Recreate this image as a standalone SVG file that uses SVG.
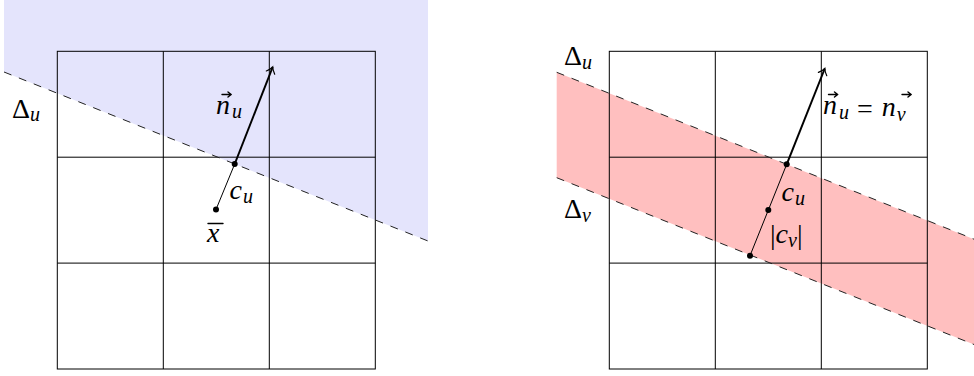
<svg xmlns="http://www.w3.org/2000/svg" width="974" height="376" viewBox="0 0 974 376">
<defs>
<marker id="to" viewBox="-8 -6 10 12" markerWidth="10" markerHeight="12" refX="0" refY="0" orient="auto" markerUnits="userSpaceOnUse">
<path d="M-6,-4.5 Q-2.5,-1 0,0 Q-2.5,1 -6,4.5" fill="none" stroke="#000" stroke-width="1.2" stroke-linecap="round"/>
</marker>
</defs>
<rect width="974" height="376" fill="#fff"/>
<polygon id="half-plane" points="4,0 428,0 428,241 4,72" fill="#e4e4fc"/>
<polygon id="band" points="556.7,72.3 1000,249.6 1000,354.9 556.7,177.7" fill="#ffbfbf"/>
<g id="grids" fill="none" stroke="#000" stroke-width="1">
<rect x="57.3" y="51.3" width="318" height="317.7"/>
<line x1="163.3" y1="51.3" x2="163.3" y2="369"/>
<line x1="269.3" y1="51.3" x2="269.3" y2="369"/>
<line x1="57.3" y1="157.2" x2="375.3" y2="157.2"/>
<line x1="57.3" y1="263.1" x2="375.3" y2="263.1"/>
<rect x="609.3" y="51.3" width="318" height="317.7"/>
<line x1="715.3" y1="51.3" x2="715.3" y2="369"/>
<line x1="821.3" y1="51.3" x2="821.3" y2="369"/>
<line x1="609.3" y1="157.2" x2="927.3" y2="157.2"/>
<line x1="609.3" y1="263.1" x2="927.3" y2="263.1"/>
</g>
<g id="connectors" fill="none" stroke="#000">
<line x1="4" y1="72" x2="428" y2="241" stroke="#222" stroke-width="1" stroke-dasharray="8 8"/>
<line x1="216" y1="209.5" x2="234.7" y2="164" stroke-width="1"/>
<line x1="234.7" y1="164" x2="272.7" y2="67" stroke-width="2" marker-end="url(#to)"/>
<line x1="556.7" y1="72.3" x2="1000" y2="249.6" stroke="#222" stroke-width="1" stroke-dasharray="8 8"/>
<line x1="556.7" y1="177.7" x2="1000" y2="354.9" stroke="#222" stroke-width="1" stroke-dasharray="8 8"/>
<line x1="750" y1="255.7" x2="786.7" y2="164.3" stroke-width="1"/>
<line x1="786.7" y1="164.3" x2="824.8" y2="68.5" stroke-width="2" marker-end="url(#to)"/>
</g>
<g id="points" fill="#000">
<circle cx="216" cy="209.5" r="3"/>
<circle cx="234.7" cy="164" r="3"/>
<circle cx="786.7" cy="164.3" r="3"/>
<circle cx="768.3" cy="210" r="3"/>
<circle cx="750" cy="255.7" r="3"/>
</g>
<path d="M222,94.5 H231 M228,92 L231.2,94.5 L228,97 M828.5,94.5 H837.5 M834.5,92 L837.7,94.5 L834.5,97 M902,94.5 H911 M908,92 L911.2,94.5 L908,97 M208,223.5 H223" fill="none" stroke="#000" stroke-width="1.4" stroke-linecap="round" stroke-linejoin="round"/>
<g font-family="Liberation Serif, Times New Roman, serif" font-size="28" fill="#000">
<text x="12" y="117.5">Δ<tspan font-size="20" font-style="italic" dy="3.5">u</tspan></text>
<text x="216" y="113.5" font-style="italic">n<tspan font-size="20" dy="4.5" dx="2">u</tspan></text>
<text x="229.5" y="198.5" font-style="italic">c<tspan font-size="20" dy="4.5" dx="1">u</tspan></text>
<text x="207" y="241.5" font-style="italic">x</text>
<text x="564" y="65">Δ<tspan font-size="20" font-style="italic" dy="4">u</tspan></text>
<text x="564" y="218">Δ<tspan font-size="20" font-style="italic" dy="4">v</tspan></text>
<text x="823" y="114" font-style="italic">n<tspan font-size="20" dy="5" dx="2">u</tspan><tspan font-style="normal" dy="-1.5" dx="8">=</tspan><tspan dy="-2" dx="9">n</tspan><tspan font-size="20" dy="5" dx="1">v</tspan></text>
<text x="781.5" y="201" font-style="italic">c<tspan font-size="20" dy="4" dx="1">u</tspan></text>
<text x="770" y="244">|<tspan font-style="italic" dy="-1">c</tspan><tspan font-size="20" font-style="italic" dy="4">v</tspan><tspan dy="-3">|</tspan></text>
</g>
</svg>
